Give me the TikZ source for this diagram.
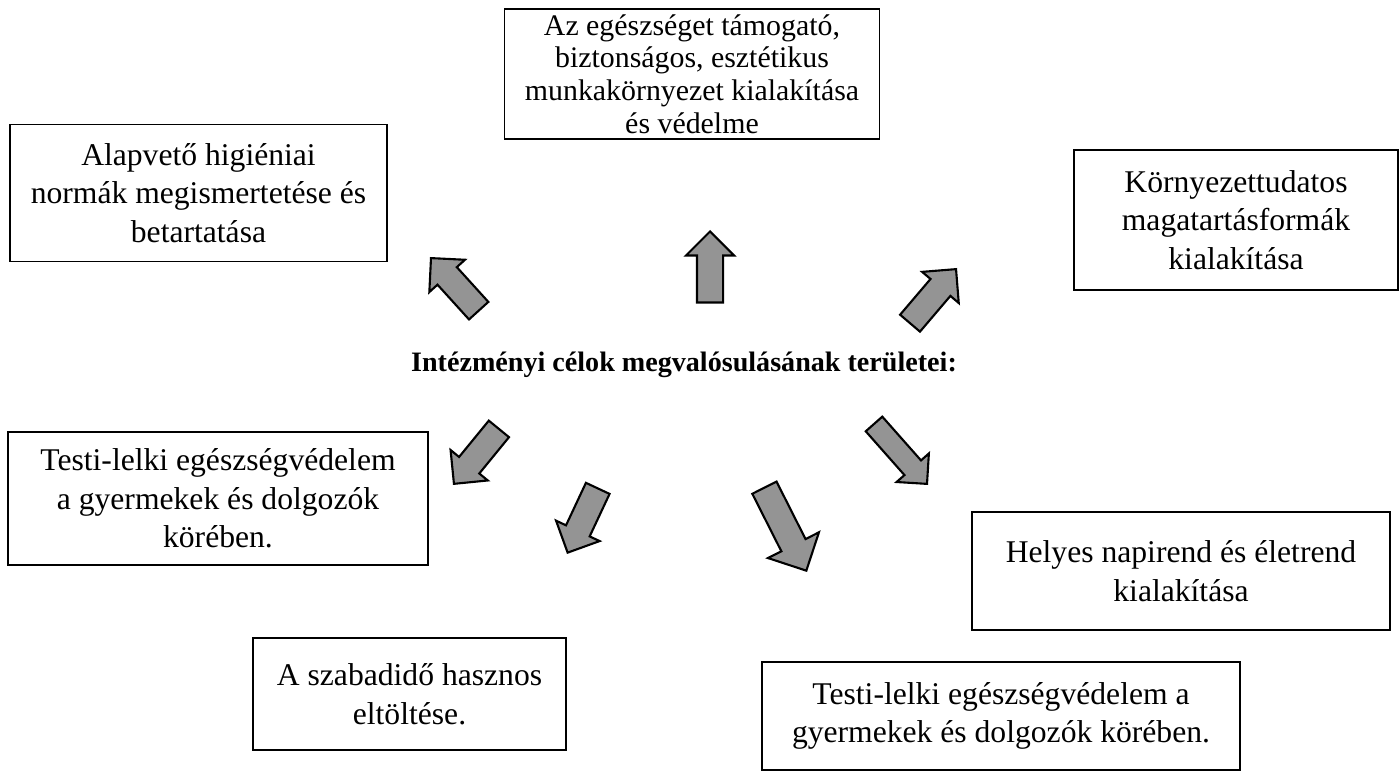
\documentclass[tikz,border=0pt]{standalone}
\usepackage{fontspec}
\setmainfont{Liberation Serif}
\usepackage{tikz}
\usetikzlibrary{shapes,arrows,shapes.arrows}
\tikzstyle{block} = [rectangle, draw, line width=0.8pt, align=center,
    font=\fontsize{18}{21.9}\selectfont, inner sep=0pt]
\tikzstyle{fat} = [single arrow, draw, line width=1.2pt, fill=black!42,
    inner xsep=0pt, inner ysep=0.24cm, anchor=tip, minimum height=1.42cm,
    single arrow head extend=0.22cm]

\begin{document}
\begin{tikzpicture}[x=0.02cm,y=-0.02cm]
    \useasboundingbox (0,0) rectangle (1400,776);
    % Place nodes
    \node [block, font=\fontsize{17}{18.6}\selectfont, minimum width=7.5cm, minimum height=2.6cm] (env) at (692,74)
        {Az egészséget támogató,\\ biztonságos, esztétikus\\ munkakörnyezet kialakítása\\ és védelme};
    \node [block, minimum width=7.54cm, minimum height=2.74cm] (hyg) at (198.5,193)
        {Alapvető higiéniai\\ normák megismertetése és\\ betartatása};
    \node [block, minimum width=6.48cm, minimum height=2.8cm] (eco) at (1236,220)
        {Környezettudatos\\ magatartásformák\\ kialakítása};
    \node [block, minimum width=8.4cm, minimum height=2.66cm] (health) at (218,498.5)
        {Testi-lelki egészségvédelem\\ a gyermekek és dolgozók\\ körében.};
    \node [block, minimum width=8.36cm, minimum height=2.36cm] (daily) at (1181,571)
        {Helyes napirend és életrend\\ kialakítása};
    \node [block, minimum width=6.26cm, minimum height=2.24cm] (free) at (409.5,694)
        {A szabadidő hasznos\\ eltöltése.};
    \node [block, minimum width=9.56cm, minimum height=2.16cm] (health2) at (1001,716)
        {Testi-lelki egészségvédelem a\\ gyermekek és dolgozók körében.};

    \node [font=\fontsize{16}{19}\selectfont\bfseries] (title) at (684,365)
        {Intézményi célok megvalósulásának területei:};

    % Draw arrows
    \node [fat, rotate=132.2] (toHyg) at (430,257) {};
    \node [fat, rotate=90] (toEnv) at (710,230) {};
    \node [fat, rotate=49.6] (toEco) at (957,268) {};
    \node [fat, rotate=230.7] (toHealth) at (453,485) {};
    \node [fat, rotate=244.9] (toFree) at (567,554) {};
    \node [fat, rotate=-63.2, minimum height=1.86cm, inner ysep=0.25cm,
        single arrow head extend=0.3cm] (toHealth2) at (807,572) {};
    \node [fat, rotate=-48.5, minimum height=1.6cm, inner ysep=0.2cm,
        single arrow head extend=0.21cm] (toDaily) at (928,485) {};
\end{tikzpicture}
\end{document}
